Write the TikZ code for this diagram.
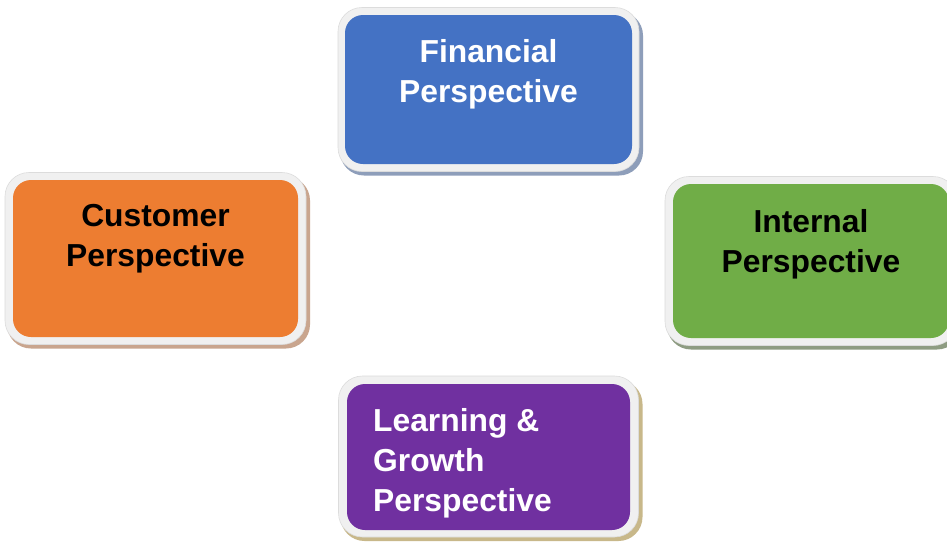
\documentclass[tikz,border=0pt]{standalone}
\usepackage{fontspec}
\setmainfont{Liberation Sans}
\definecolor{finblue}{HTML}{4472C4}
\definecolor{custorange}{HTML}{ED7D31}
\definecolor{intgreen}{HTML}{70AD47}
\definecolor{learnpurple}{HTML}{7030A0}
\definecolor{framegrey}{HTML}{F0F0F0}
\definecolor{frameedge}{HTML}{DCDCDC}
\definecolor{shblue}{HTML}{8E9EBA}
\definecolor{shorange}{HTML}{C9A58E}
\definecolor{shgreen}{HTML}{8E9C82}
\definecolor{shpurple}{HTML}{C8B88A}
\tikzset{
  panel/.style={inner sep=0pt, rounded corners=18pt},
  framebox/.style={inner sep=0pt, rounded corners=24pt, fill=framegrey, draw=frameedge, line width=0.6pt},
  shadebox/.style={inner sep=0pt, rounded corners=24pt},
  label/.style={inner sep=0pt, font=\bfseries\fontsize{31.8}{40}\selectfont},
}
\begin{document}
\begin{tikzpicture}[x=1pt,y=-1pt]
\useasboundingbox (0,0) rectangle (947,542);
\fill[white] (0,0) rectangle (947,542);

% Financial perspective (top)
\node[shadebox, fill=shblue, minimum width=303pt, minimum height=164pt] (finS) at (491.5,93.5) {};
\node[framebox, minimum width=301pt, minimum height=164pt] (finF) at (488.5,89.5) {};
\node[panel, fill=finblue, minimum width=287pt, minimum height=149pt] (fin) at (488.5,89.5) {};
\node[label, text=white, align=center, anchor=north] (finT) at (488.5,39) {Financial\\Perspective};

% Customer perspective (left)
\node[shadebox, fill=shorange, minimum width=303pt, minimum height=172pt] (cusS) at (158.5,262.5) {};
\node[framebox, minimum width=301pt, minimum height=172pt] (cusF) at (155.5,258.5) {};
\node[panel, fill=custorange, minimum width=285pt, minimum height=157pt] (cus) at (155.5,258.5) {};
\node[label, text=black, align=center, anchor=north] (cusT) at (155.5,204) {Customer\\Perspective};

% Internal perspective (right)
\node[shadebox, fill=shgreen, minimum width=294pt, minimum height=169pt] (intS) at (814,265) {};
\node[framebox, minimum width=292pt, minimum height=169pt] (intF) at (811,261) {};
\node[panel, fill=intgreen, minimum width=276pt, minimum height=154pt] (int) at (811,261) {};
\node[label, text=black, align=center, anchor=north] (intT) at (811,209) {Internal\\Perspective};

% Learning & growth perspective (bottom)
\node[shadebox, fill=shpurple, minimum width=302pt, minimum height=161pt] (lrnS) at (491.5,460.5) {};
\node[framebox, minimum width=300pt, minimum height=161pt] (lrnF) at (488.5,456.5) {};
\node[panel, fill=learnpurple, minimum width=283pt, minimum height=146pt] (lrn) at (488.5,457) {};
\node[label, text=white, align=left, anchor=north west] (lrnT) at (373,408) {Learning \&\\Growth\\Perspective};
\end{tikzpicture}
\end{document}
